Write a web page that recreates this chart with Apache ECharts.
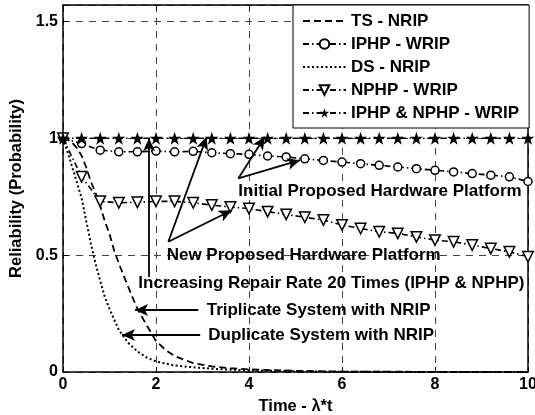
<!DOCTYPE html>
<html><head><meta charset="utf-8">
<script src="https://cdn.jsdelivr.net/npm/echarts@6/dist/echarts.min.js"></script>
<style>html,body{margin:0;padding:0;background:#fff}#c{width:535px;height:415px}</style>
</head><body><div id="c"></div>
<script>
// ---- data ----
const seriesNames = ['TS - NRIP', 'IPHP - WRIP', 'DS - NRIP', 'NPHP - WRIP', 'IPHP & NPHP - WRIP'];
const markerTimes = [0,0.4,0.8,1.2,1.6,2,2.4,2.8,3.2,3.6,4,4.4,4.8,5.2,5.6,6,6.4,6.8,7.2,7.6,8,8.4,8.8,9.2,9.6,10];
const iphpWrip = [1,0.977,0.949,0.942,0.942,0.945,0.942,0.944,0.938,0.934,0.931,0.924,0.92,0.912,0.905,0.898,0.891,0.884,0.877,0.87,0.863,0.856,0.849,0.842,0.835,0.815];
const nphpWrip = [1,0.835,0.73,0.724,0.726,0.73,0.73,0.724,0.714,0.706,0.699,0.686,0.674,0.662,0.65,0.629,0.614,0.6,0.593,0.578,0.564,0.557,0.543,0.528,0.514,0.493];
const bothWrip = [1,1,1,1,1,1,1,1,1,1,1,1,1,1,1,1,1,1,1,1,1,1,1,1,1,1];
const tsTimes = [0,0.1,0.2,0.3,0.4,0.5,0.6,0.7,0.8,0.9,1.0,1.1,1.2,1.4,1.6,1.8,2.0,2.2,2.4,2.8,3.2,3.6,4,5,6,8,10];
const tsNrip  = [1,0.995,0.98,0.958,0.925,0.875,0.815,0.765,0.71,0.645,0.59,0.52,0.465,0.365,0.27,0.2,0.133,0.095,0.068,0.038,0.024,0.016,0.011,0.005,0.002,0.0005,0];
const dsTimes = [0,0.1,0.2,0.3,0.4,0.5,0.6,0.7,0.8,0.9,1.0,1.2,1.4,1.6,1.8,2.0,2.4,2.8,3.2,3.6,4,5,6,8,10];
const dsNrip  = [1,0.94,0.875,0.81,0.745,0.645,0.55,0.463,0.39,0.32,0.27,0.18,0.125,0.088,0.062,0.045,0.028,0.02,0.014,0.01,0.007,0.003,0.001,0,0];
const noteTexts = ['Initial Proposed Hardware Platform','New Proposed Hardware Platform','Increasing Repair Rate 20 Times (IPHP & NPHP)','Triplicate System with NRIP','Duplicate System with NRIP'];
const noteAt = [[3.77,0.771],[2.23,0.5],[1.62,0.38],[3.09,0.265],[3.125,0.158]];
const arrowFrom = [[1.85,0.406],[2.265,0.557],[2.265,0.557],[3.77,0.828],[3.77,0.828],[2.91,0.265],[2.95,0.158]];
const arrowTo   = [[1.85,1.0],[3.09,1.006],[3.63,0.692],[4.34,1.006],[5.10,0.906],[1.55,0.265],[1.27,0.158]];

// ---- chart ----
const FONT = "'Liberation Sans', Arial, Helvetica, sans-serif";
const zip = (a, b) => a.map((v, i) => [v, b[i]]);
const STAR = 'path://M50,2 L61.8,38.2 L99.5,38.2 L69,60.5 L80.7,96.7 L50,74.3 L19.3,96.7 L31,60.5 L0.5,38.2 L38.2,38.2 Z';
const DASHDOT = [6,3,1.5,3];
const txt = {color:'#000', fontFamily:FONT, fontWeight:'bold', fontSize:16};
const gridLine = {show:true, lineStyle:{color:'#444', width:1, type:[7,6]}};

const chart = echarts.init(document.getElementById('c'), null, {renderer:'canvas'});
chart.setOption({
  animation:false,
  backgroundColor:'#fff',
  grid:{left:63, right:7, top:5, bottom:43, outerBoundsMode:'none', containLabel:false},
  xAxis:[{
    type:'value', min:0, max:10, interval:2,
    name:'Time - λ*t', nameLocation:'middle', nameGap:24,
    nameTextStyle:Object.assign({}, txt, {fontSize:16.5}),
    axisLine:{show:true, onZero:false, lineStyle:{color:'#000', width:1.5}},
    axisTick:{show:true, inside:true, length:5, lineStyle:{color:'#000', width:1}},
    axisLabel:Object.assign({margin:5}, txt),
    splitLine:gridLine
  },{
    type:'value', position:'top', min:0, max:10, interval:2,
    axisLine:{show:true, onZero:false, lineStyle:{color:'#000', width:1.5}},
    axisTick:{show:true, inside:true, length:5, lineStyle:{color:'#000', width:1}},
    axisLabel:{show:false}, splitLine:{show:false}
  }],
  yAxis:[{
    type:'value', min:0, max:1.57, interval:0.5,
    name:'Reliability (Probability)', nameLocation:'middle', nameGap:32,
    nameTextStyle:Object.assign({}, txt, {fontSize:16.5}),
    axisLine:{show:true, onZero:false, lineStyle:{color:'#000', width:1.5}},
    axisTick:{show:true, inside:true, length:5, lineStyle:{color:'#000', width:1}},
    axisLabel:Object.assign({margin:5, showMaxLabel:false}, txt),
    splitLine:gridLine
  },{
    type:'value', position:'right', min:0, max:1.57, interval:0.5,
    axisLine:{show:true, onZero:false, lineStyle:{color:'#000', width:1.5}},
    axisTick:{show:true, inside:true, length:5, lineStyle:{color:'#000', width:1}},
    axisLabel:{show:false}, splitLine:{show:false}
  }],
  legend:{
    orient:'vertical', left:293, top:5,
    padding:[7.5,10,6.5,9], itemGap:6, itemWidth:43, itemHeight:12,
    backgroundColor:'#fff', borderColor:'#000', borderWidth:1, borderRadius:0,
    textStyle:Object.assign({}, txt, {fontSize:17, lineHeight:17}),
    selectedMode:false,
    data:[
      {name:seriesNames[0], itemStyle:{opacity:0}},
      {name:seriesNames[1]},
      {name:seriesNames[2], itemStyle:{opacity:0}},
      {name:seriesNames[3]},
      {name:seriesNames[4]}
    ]
  },
  series:[
    {name:seriesNames[0], type:'line', data:zip(tsTimes, tsNrip), symbol:'none',
     color:'#000', lineStyle:{color:'#000', width:1.8, type:[7,4]}},
    {name:seriesNames[1], type:'line', data:zip(markerTimes, iphpWrip), symbol:'circle', symbolSize:8,
     color:'#000', itemStyle:{color:'#fff', borderColor:'#000', borderWidth:1.5},
     lineStyle:{color:'#000', width:1.6, type:DASHDOT}},
    {name:seriesNames[2], type:'line', data:zip(dsTimes, dsNrip), symbol:'none',
     color:'#000', lineStyle:{color:'#000', width:2, type:[2,2.5]}},
    {name:seriesNames[3], type:'line', data:zip(markerTimes, nphpWrip), symbol:'triangle', symbolRotate:180, symbolSize:10.5,
     color:'#000', itemStyle:{color:'#fff', borderColor:'#000', borderWidth:1.5},
     lineStyle:{color:'#000', width:1.6, type:DASHDOT}},
    {name:seriesNames[4], type:'line', data:zip(markerTimes, bothWrip), symbol:STAR, symbolSize:13,
     color:'#000', itemStyle:{color:'#000', borderWidth:0},
     lineStyle:{color:'#000', width:1.6, type:DASHDOT}},
    {name:'arrows', type:'scatter', silent:true, data:[],
     markLine:{silent:true, animation:false, symbol:['none','arrow'], symbolSize:[9,13],
       lineStyle:{color:'#000', width:1.8, type:'solid', opacity:1}, label:{show:false},
       emphasis:{disabled:true},
       data:arrowFrom.map((f, i) => [{coord:f}, {coord:arrowTo[i]}])}
    }
  ]
});

// annotation texts positioned through the grid's own scales
chart.setOption({
  graphic: noteTexts.map((t, i) => {
    const p = chart.convertToPixel({gridIndex:0}, noteAt[i]);
    return {type:'text', x:p[0], y:p[1], silent:true, z:100,
      style:{text:t, fill:'#000', font:'bold 17px ' + FONT, textAlign:'left', textVerticalAlign:'middle'}};
  })
});
</script></body></html>
